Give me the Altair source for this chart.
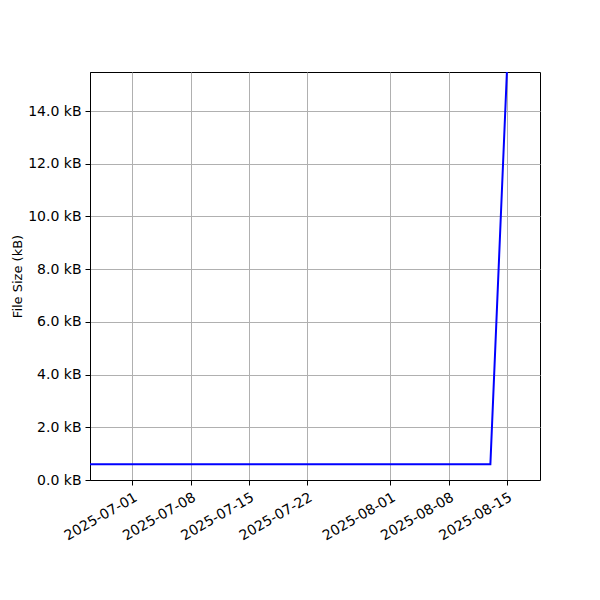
import altair as alt
import pandas as pd

dates = ["2025-06-20", "2025-08-13", "2025-08-15"]
sizes_kb = [0.6, 0.6, 15.6]

tick_dates = ["2025-07-01", "2025-07-08", "2025-07-15", "2025-07-22",
              "2025-08-01", "2025-08-08", "2025-08-15"]
y_ticks = [0, 2, 4, 6, 8, 10, 12, 14]

df = pd.DataFrame({"date": pd.to_datetime(dates), "size": sizes_kb})

x_domain = [pd.Timestamp("2025-06-25T22:00").isoformat(),
            pd.Timestamp("2025-08-18T23:00").isoformat()]

chart = alt.Chart(df).mark_line(color="blue", strokeWidth=2, clip=True).encode(
    x=alt.X("date:T",
            scale=alt.Scale(domain=x_domain, nice=False),
            axis=alt.Axis(values=[alt.DateTime(year=int(d[:4]), month=int(d[5:7]), date=int(d[8:10])) for d in tick_dates],
                          labelExpr="timeFormat(datum.value, '%Y-%m-%d')",
                          labelAngle=-30, labelAlign="right", labelBaseline="top",
                          labelOverlap=False, labelBound=False, labelFlush=False,
                          labelPadding=5,
                          title=None)),
    y=alt.Y("size:Q",
            scale=alt.Scale(domain=[0, 15.48], nice=False, zero=True),
            axis=alt.Axis(values=y_ticks,
                          labelExpr="format(datum.value, '.1f') + ' kB'",
                          labelOverlap=False, labelPadding=4,
                          title="File Size (kB)",
                          titleX=-73, titleY=204, titleAngle=270,
                          titleAlign="center", titleBaseline="middle"))
).properties(
    width=450, height=408,
    autosize=alt.AutoSizeParams(type="none"),
    padding={"left": 82, "top": 64, "right": 52, "bottom": 112}
).configure_axis(
    grid=True, gridColor="#b0b0b0", gridWidth=1,
    domainColor="black", domainWidth=1,
    tickColor="black", tickSize=5,
    labelFont="DejaVu Sans", labelFontSize=14, labelColor="black",
    titleFont="DejaVu Sans", titleFontSize=13, titleFontWeight="normal", titleColor="black"
).configure_view(stroke="black", strokeWidth=1)

chart.save("out.html", embed_options={"renderer": "svg", "actions": False})
